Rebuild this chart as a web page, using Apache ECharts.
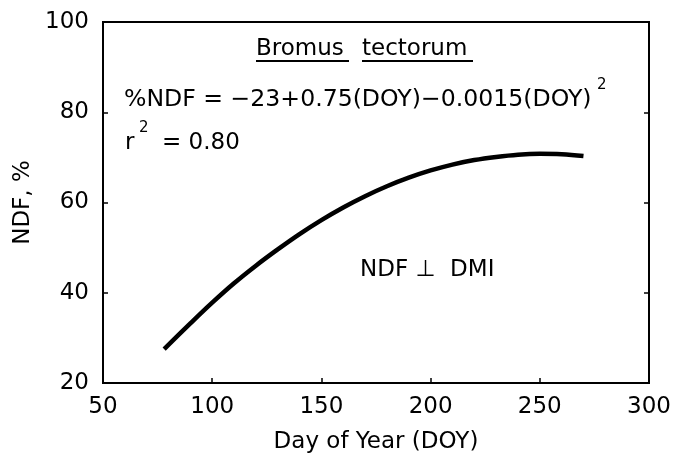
<!DOCTYPE html>
<html>
<head>
<meta charset="utf-8">
<script src="https://cdn.jsdelivr.net/npm/echarts@6/dist/echarts.min.js"></script>
<style>
html,body{margin:0;padding:0;background:#fff;}
#chart{width:684px;height:460px;}
</style>
</head>
<body>
<div id="chart"></div>
<script>
// Values
var doy = [78, 90, 100, 110, 120, 130, 140, 150, 160, 170, 180, 190, 200, 210, 220, 230, 240, 250, 260, 270];
var ndf = [27.5, 33.2, 37.8, 42.1, 46.0, 49.6, 53.0, 56.1, 58.9, 61.4, 63.6, 65.5, 67.1, 68.4, 69.4, 70.1, 70.6, 70.8, 70.7, 70.3];
var xTicks = [50, 100, 150, 200, 250, 300];
var yTicks = [20, 40, 60, 80, 100];

var FONT = 'DejaVu Sans';
var FS = 23;
var points = doy.map(function (d, i) { return [d, ndf[i]]; });

var chart = echarts.init(document.getElementById('chart'), null, {renderer: 'canvas'});
var txt = {fontFamily: FONT, fontSize: FS, fill: '#000'};
function T(x, y, s, extra) {
  var st = Object.assign({}, txt, {text: s, x: x, y: y, verticalAlign: 'middle'}, extra || {});
  return {type: 'text', style: st, z: 10};
}
chart.setOption({
  animation: false,
  backgroundColor: '#fff',
  grid: {left: 103, right: 35, top: 22, bottom: 77, show: true, borderColor: '#000', borderWidth: 2, backgroundColor: 'transparent'},
  xAxis: [{
    type: 'value', min: xTicks[0], max: xTicks[xTicks.length - 1], interval: 50,
    name: 'Day of Year (DOY)', nameLocation: 'middle', nameGap: 48,
    nameTextStyle: {fontFamily: FONT, fontSize: FS, color: '#000'},
    axisLine: {show: true, lineStyle: {color: '#000', width: 2}},
    axisTick: {show: true, inside: true, length: 5, lineStyle: {color: '#000', width: 1.5}},
    axisLabel: {margin: 13, fontFamily: FONT, fontSize: FS, color: '#000'},
    splitLine: {show: false}
  }],
  yAxis: [{
    type: 'value', min: yTicks[0], max: yTicks[yTicks.length - 1], interval: 20,
    name: 'NDF, %', nameLocation: 'middle', nameGap: 63, nameRotate: 90,
    nameTextStyle: {fontFamily: FONT, fontSize: FS, color: '#000'},
    axisLine: {show: true, lineStyle: {color: '#000', width: 2}},
    axisTick: {show: true, inside: true, length: 5, lineStyle: {color: '#000', width: 1.5}},
    axisLabel: {margin: 14, fontFamily: FONT, fontSize: FS, color: '#000'},
    splitLine: {show: false}
  }, {
    type: 'value', position: 'right', min: yTicks[0], max: yTicks[yTicks.length - 1], interval: 20,
    axisLine: {show: true, lineStyle: {color: '#000', width: 2}},
    axisTick: {show: true, inside: true, length: 5, lineStyle: {color: '#000', width: 1.5}},
    axisLabel: {show: false},
    splitLine: {show: false}
  }],
  series: [{
    type: 'line', data: points, smooth: 0.4, showSymbol: false,
    lineStyle: {color: '#000', width: 4.5, cap: 'butt'}
  }],
  graphic: [
    T(256, 49, 'Bromus'),
    T(362, 49, 'tectorum'),
    {type: 'line', shape: {x1: 256, y1: 61, x2: 349, y2: 61}, style: {stroke: '#000', lineWidth: 2}},
    {type: 'line', shape: {x1: 362, y1: 61, x2: 473, y2: 61}, style: {stroke: '#000', lineWidth: 2}},
    T(124, 100, '%NDF = \u221223+0.75(DOY)\u22120.0015(DOY)', {fontSize: 23.6}),
    T(597, 85, '2', {fontSize: 15}),
    T(125, 143, 'r'),
    T(139, 128, '2', {fontSize: 15}),
    T(162, 143, '= 0.80'),
    T(360, 270, 'NDF \u22a5  DMI')
  ]
});
</script>
</body>
</html>
